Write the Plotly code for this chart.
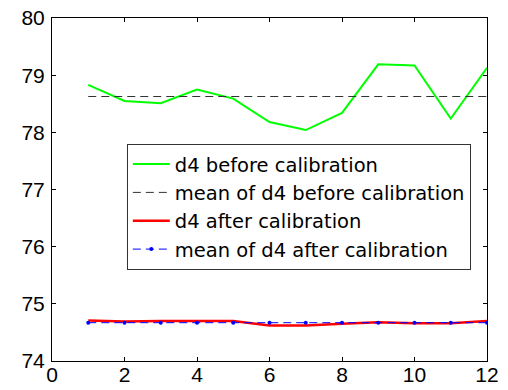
import plotly.graph_objects as go

x = list(range(1, 13))
before = [78.83, 78.55, 78.51, 78.75, 78.59, 78.18, 78.04, 78.34, 79.19, 79.17, 78.24, 79.13]
after = [74.71, 74.69, 74.70, 74.70, 74.70, 74.62, 74.62, 74.65, 74.68, 74.66, 74.66, 74.70]
mean_before = [sum(before) / len(before)] * len(x)
mean_after = [74.67] * len(x)

names = ["d4 before calibration", "mean of d4 before calibration",
         "d4 after calibration", "mean of d4 after calibration"]

fig = go.Figure()
fig.add_trace(go.Scatter(x=x, y=before, mode="lines", name=names[0],
                         line=dict(color="#00ff00", width=2)))
fig.add_trace(go.Scatter(x=x, y=mean_before, mode="lines", name=names[1],
                         line=dict(color="#333333", width=1, dash="8px,5px")))
fig.add_trace(go.Scatter(x=x, y=after, mode="lines", name=names[2],
                         line=dict(color="#ff0000", width=2.5)))
fig.add_trace(go.Scatter(x=x, y=mean_after, mode="lines+markers", name=names[3],
                         line=dict(color="#0000ff", width=1, dash="8px,5px"),
                         marker=dict(color="#0000ff", size=4, symbol="circle")))

font_family = "Arial, Liberation Sans"
axis_common = dict(showline=True, linecolor="black", linewidth=1, mirror="allticks",
                   ticks="inside", ticklen=4, tickcolor="black", showgrid=False,
                   zeroline=False, automargin=False,
                   tickfont=dict(family=font_family, size=21, color="black"))
fig.update_xaxes(range=[0, 12], tickvals=[0, 2, 4, 6, 8, 10, 12],
                 ticklabelstandoff=-5, **axis_common)
fig.update_yaxes(range=[74, 80], tickvals=[74, 75, 76, 77, 78, 79, 80],
                 ticklabelstandoff=2, **axis_common)

fig.update_layout(
    width=508, height=390,
    margin=dict(l=52, r=21, t=18, b=29),
    paper_bgcolor="white", plot_bgcolor="white",
    font=dict(family=font_family, color="black"),
    legend=dict(x=0.172, y=0.633, xanchor="left", yanchor="top",
                bordercolor="#333333", borderwidth=1, bgcolor="white",
                itemwidth=37,
                font=dict(size=19.5, family="DejaVu Sans", color="black"),
                tracegroupgap=0),
)

fig.write_html("out.html")
